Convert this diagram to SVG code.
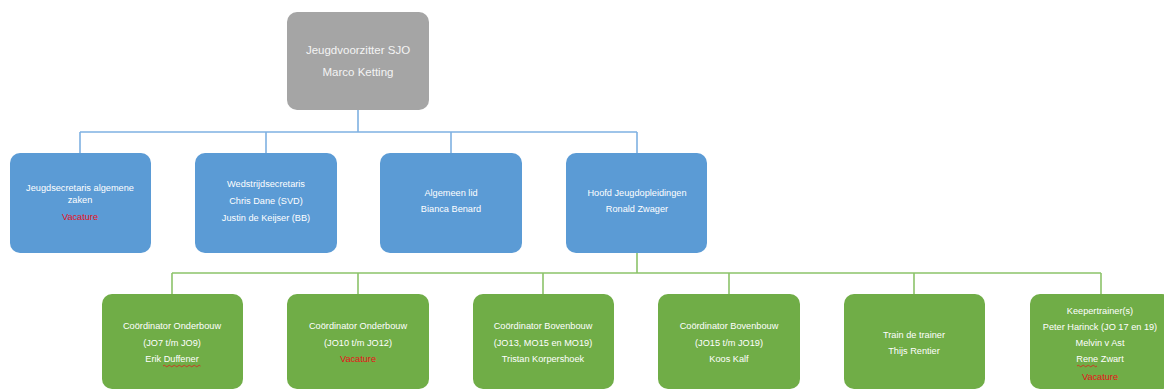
<svg xmlns="http://www.w3.org/2000/svg" width="1164" height="390" viewBox="0 0 1164 390">
<style>
.t{font-family:"Liberation Sans",Arial,sans-serif;font-size:9.2px;fill:#ffffff;text-anchor:middle}
.tt{font-family:"Liberation Sans",Arial,sans-serif;font-size:11.5px;fill:#f4f4f4;text-anchor:middle}
.r{fill:#e8101a}
.gray{fill:#a5a5a5}
.blue{fill:#5b9bd5}
.green{fill:#70ad47}
.cb{stroke:#7fb1e2;stroke-width:1.6;fill:none}
.cg{stroke:#8cc36a;stroke-width:1.6;fill:none}
.sq{stroke:#e02020;stroke-width:0.8;fill:none}
</style>
<rect width="1164" height="390" fill="#ffffff"/>
<g id="connectors">
<path class="cb" d="M358 110V132M80 132H637M80 132V153M266 132V153M451 132V153M637 132V153"/>
<path class="cg" d="M637 253V273M172 273H1101M172 273V294M358 273V294M543 273V294M729 273V294M914 273V294M1101 273V294"/>
</g>
<g id="n-voorzitter">
<rect class="gray" x="287" y="12" width="142" height="98" rx="10"/>
<text class="tt" x="358" y="54">Jeugdvoorzitter SJO</text>
<text class="tt" x="358" y="76">Marco Ketting</text>
</g>
<g id="n-secretaris">
<rect class="blue" x="10" y="153" width="141" height="100" rx="10"/>
<text class="t" x="80" y="191">Jeugdsecretaris algemene</text>
<text class="t" x="80" y="203">zaken</text>
<text class="t r" x="80" y="220">Vacature</text>
</g>
<g id="n-wedstrijd">
<rect class="blue" x="195" y="153" width="142" height="100" rx="10"/>
<text class="t" x="266" y="187">Wedstrijdsecretaris</text>
<text class="t" x="266" y="204">Chris Dane (SVD)</text>
<text class="t" x="266" y="221">Justin de Keijser (BB)</text>
</g>
<g id="n-algemeen">
<rect class="blue" x="380" y="153" width="142" height="100" rx="10"/>
<text class="t" x="451" y="196">Algemeen lid</text>
<text class="t" x="451" y="212">Bianca Benard</text>
</g>
<g id="n-hoofd">
<rect class="blue" x="566" y="153" width="141" height="100" rx="10"/>
<text class="t" x="637" y="196">Hoofd Jeugdopleidingen</text>
<text class="t" x="637" y="212">Ronald Zwager</text>
</g>
<g id="n-onder1">
<rect class="green" x="102" y="294" width="141" height="95" rx="10"/>
<text class="t" x="172" y="329">Coördinator Onderbouw</text>
<text class="t" x="172" y="346">(JO7 t/m JO9)</text>
<text class="t" x="172" y="362">Erik Duffener</text>
<path class="sq" d="M163 366q1.25 -1.5 2.5 0t2.5 0t2.5 0t2.5 0t2.5 0t2.5 0t2.5 0t2.5 0t2.5 0t2.5 0t2.5 0t2.5 0t2.5 0t2.5 0t2.5 0"/>
</g>
<g id="n-onder2">
<rect class="green" x="287" y="294" width="142" height="95" rx="10"/>
<text class="t" x="358" y="329">Coördinator Onderbouw</text>
<text class="t" x="358" y="346">(JO10 t/m JO12)</text>
<text class="t r" x="358" y="362">Vacature</text>
</g>
<g id="n-boven1">
<rect class="green" x="473" y="294" width="141" height="95" rx="10"/>
<text class="t" x="543" y="329">Coördinator Bovenbouw</text>
<text class="t" x="543" y="346">(JO13, MO15 en MO19)</text>
<text class="t" x="543" y="362">Tristan Korpershoek</text>
</g>
<g id="n-boven2">
<rect class="green" x="658" y="294" width="142" height="95" rx="10"/>
<text class="t" x="729" y="329">Coördinator Bovenbouw</text>
<text class="t" x="729" y="346">(JO15 t/m JO19)</text>
<text class="t" x="729" y="362">Koos Kalf</text>
</g>
<g id="n-train">
<rect class="green" x="844" y="294" width="141" height="95" rx="10"/>
<text class="t" x="914" y="338">Train de trainer</text>
<text class="t" x="914" y="354">Thijs Rentier</text>
</g>
<g id="n-keeper">
<rect class="green" x="1030" y="294" width="142" height="95" rx="10"/>
<text class="t" x="1100" y="314">Keepertrainer(s)</text>
<text class="t" x="1100" y="330">Peter Harinck (JO 17 en 19)</text>
<text class="t" x="1100" y="346">Melvin v Ast</text>
<text class="t" x="1100" y="362">Rene Zwart</text>
<path class="sq" d="M1077 366q1.25 -1.5 2.5 0t2.5 0t2.5 0t2.5 0t2.5 0t2.5 0t2.5 0t2.5 0"/>
<text class="t r" x="1100" y="380">Vacature</text>
</g>
</svg>
